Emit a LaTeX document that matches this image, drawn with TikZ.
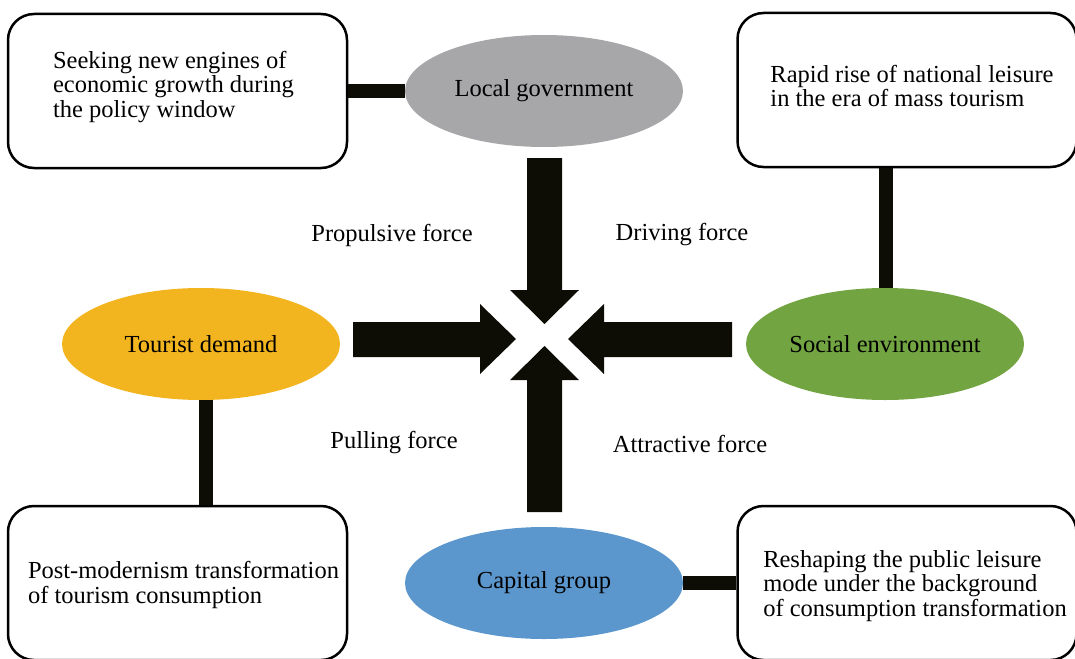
\documentclass[tikz,border=0pt]{standalone}
\usepackage{fontspec}
\setmainfont{Liberation Serif}
\usetikzlibrary{shapes.geometric}
\definecolor{govgray}{HTML}{A7A7A9}
\definecolor{touror}{HTML}{F3B51F}
\definecolor{socgreen}{HTML}{72A441}
\definecolor{capblue}{HTML}{5B97CD}
\definecolor{arrblack}{HTML}{0D0D05}
\tikzset{
  txt/.style={font=\fontsize{24.5}{24.5}\selectfont, text=black},
  box/.style={draw=black, line width=2.5pt, rounded corners=26pt, fill=white,
    minimum width=339pt, minimum height=154pt, inner sep=0pt},
  boxtxt/.style={txt, align=left, inner sep=0pt},
  oval/.style={txt, ellipse, minimum width=278pt, minimum height=112pt, inner sep=0pt},
  bar/.style={arrblack, line width=14pt},
  bigarrow/.style={fill=arrblack, draw=none},
  lbl/.style={txt, inner sep=0pt}
}
\begin{document}
\begin{tikzpicture}[x=1pt,y=-1pt]
\useasboundingbox (0,0) rectangle (1075,658);
% ellipses
\node[oval, fill=govgray] (lg) at (544,91) {Local government};
\node[oval, fill=touror] (td) at (201,344) {Tourist demand};
\node[oval, fill=socgreen] (se) at (885,344) {Social environment};
\node[oval, fill=capblue] (cg) at (544,583) {Capital group};
% boxes
\node[box] (tl) at (177.5,91) {};
\node[box] (tr) at (907,90) {};
\node[box] (bl) at (177.5,583) {};
\node[box] (br) at (907,583) {};
\node[boxtxt] (tlt) at ([shift={(-4,-4)}]tl.center) {Seeking new engines of\\economic growth during\\the policy window};
\node[boxtxt] (trt) at ([shift={(5,-4)}]tr.center) {Rapid rise of national leisure\\in the era of mass tourism};
\node[boxtxt] (blt) at ([shift={(6,2)}]bl.center) {Post-modernism transformation\\of tourism consumption};
\node[boxtxt] (brt) at ([shift={(8,3)}]br.center) {Reshaping the public leisure\\mode under the background\\of consumption transformation};
% connectors
\draw[bar] (tl.east) -- (lg.west |- tl.east);
\draw[bar] ([xshift=1pt]se.north) -- ([xshift=1pt]se.north |- tr.south);
\draw[bar] ([xshift=5pt]td.south) -- ([xshift=5pt]td.south |- bl.north);
\draw[bar] (cg.east) -- (cg.east -| br.west);
% center arrows
\fill[bigarrow] (527,158) -- (562,158) -- (562,290) -- (579,290) -- (544.5,324) -- (510,290) -- (527,290) -- cycle;
\fill[bigarrow] (527,512) -- (562,512) -- (562,380) -- (579,380) -- (544.5,346) -- (510,380) -- (527,380) -- cycle;
\fill[bigarrow] (353,322) -- (480,322) -- (480,304) -- (516,339) -- (480,374) -- (480,357) -- (353,357) -- cycle;
\fill[bigarrow] (732,322) -- (604,322) -- (604,304) -- (568,339) -- (604,374) -- (604,357) -- (732,357) -- cycle;
% labels
\node[lbl] (pf) at (392,235) {Propulsive force};
\node[lbl] (df) at (682,235) {Driving force};
\node[lbl] (pl) at (394,443) {Pulling force};
\node[lbl] (af) at (690,444) {Attractive force};
\end{tikzpicture}
\end{document}
